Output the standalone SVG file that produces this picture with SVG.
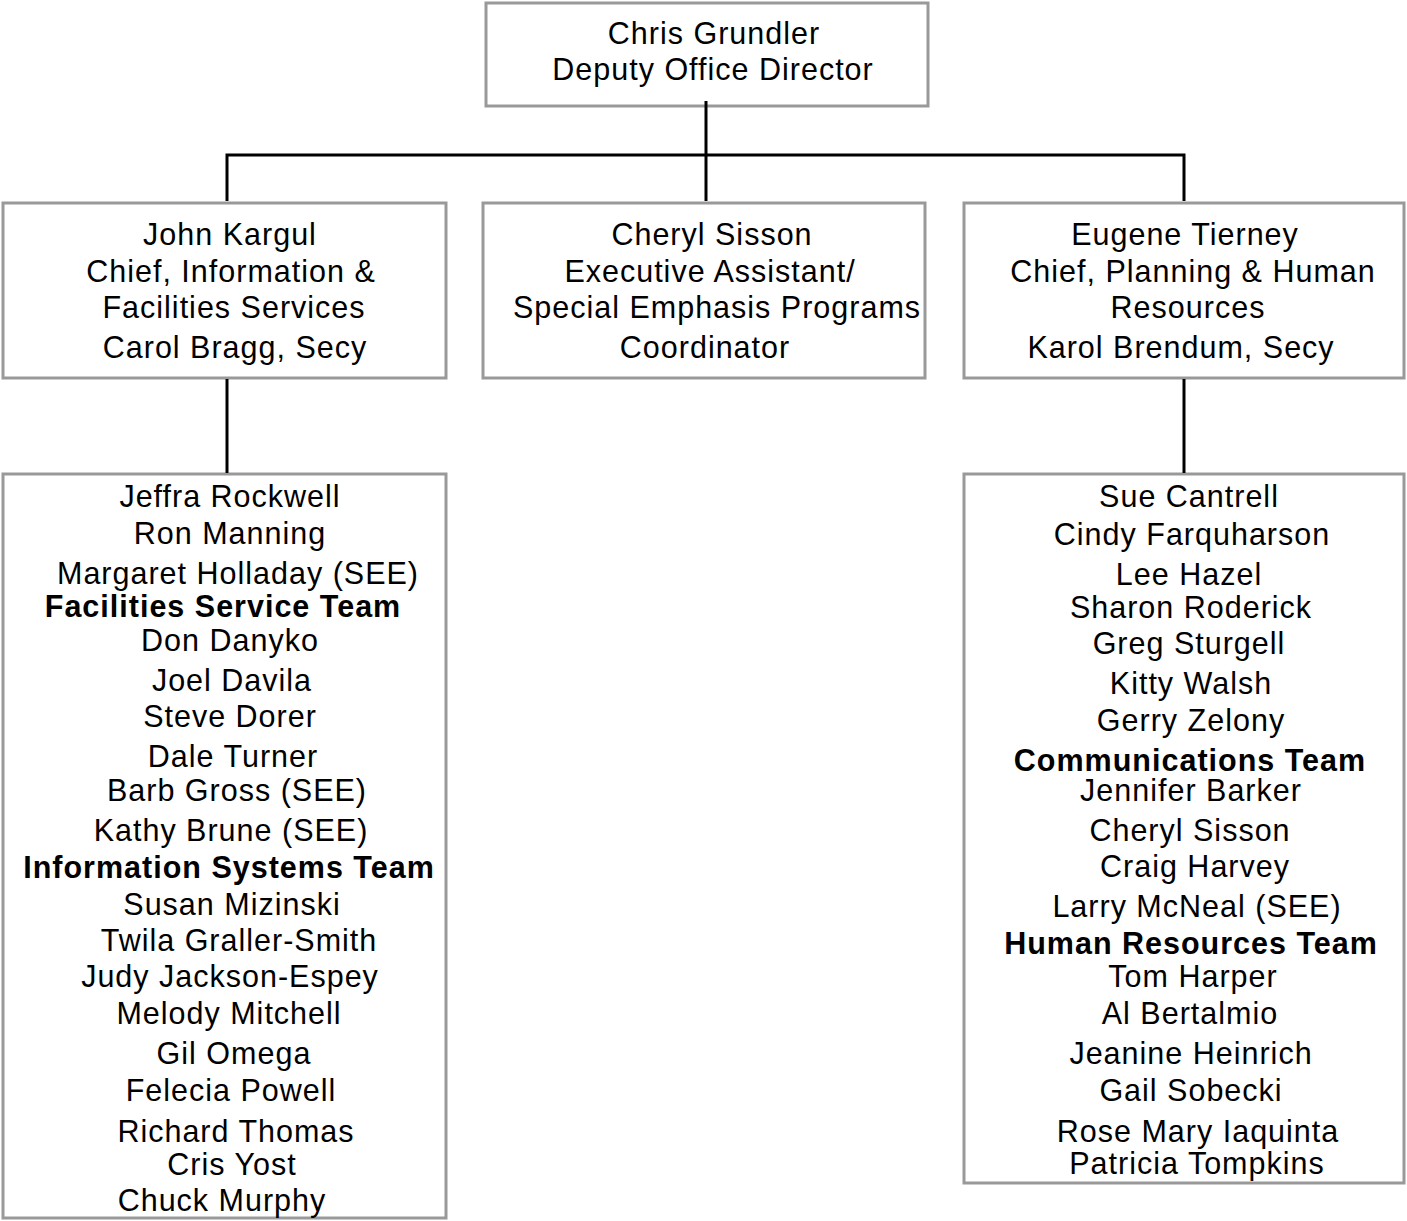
<svg xmlns="http://www.w3.org/2000/svg" width="1407" height="1221" viewBox="0 0 1407 1221">
<style>
.box{fill:#fff;stroke:#999;stroke-width:3}
.t{font-family:"Liberation Sans",Arial,sans-serif;font-size:30.5px;letter-spacing:1px;fill:#000;text-anchor:middle}
.b{font-weight:bold}
.c{stroke:#000;stroke-width:3;fill:none}
</style>
<rect width="1407" height="1221" fill="#fff"/>
<g id="node-grundler">
<rect class="box" x="486" y="3" width="442" height="103"/>
<text class="t" x="714" y="44">Chris Grundler</text>
<text class="t" x="713" y="80">Deputy Office Director</text>
</g>
<g id="node-kargul">
<rect class="box" x="3" y="203" width="443" height="175"/>
<text class="t" x="230" y="245">John Kargul</text>
<text class="t" x="231" y="282">Chief, Information &amp;</text>
<text class="t" x="234" y="318">Facilities Services</text>
<text class="t" x="235" y="358">Carol Bragg, Secy</text>
</g>
<g id="node-sisson">
<rect class="box" x="483" y="203" width="442" height="175"/>
<text class="t" x="712" y="245">Cheryl Sisson</text>
<text class="t" x="710" y="282">Executive Assistant/</text>
<text class="t" x="717" y="318">Special Emphasis Programs</text>
<text class="t" x="705" y="358">Coordinator</text>
</g>
<g id="node-tierney">
<rect class="box" x="964" y="203" width="440" height="175"/>
<text class="t" x="1185" y="245">Eugene Tierney</text>
<text class="t" x="1193" y="282">Chief, Planning &amp; Human</text>
<text class="t" x="1188" y="318">Resources</text>
<text class="t" x="1181" y="358">Karol Brendum, Secy</text>
</g>
<g id="node-ifs-staff">
<rect class="box" x="3" y="474" width="443" height="744"/>
<text class="t" x="230" y="507">Jeffra Rockwell</text>
<text class="t" x="230" y="544">Ron Manning</text>
<text class="t" x="238" y="584">Margaret Holladay (SEE)</text>
<text class="t b" x="223" y="617">Facilities Service Team</text>
<text class="t" x="230" y="651">Don Danyko</text>
<text class="t" x="232" y="691">Joel Davila</text>
<text class="t" x="230" y="727">Steve Dorer</text>
<text class="t" x="233" y="767">Dale Turner</text>
<text class="t" x="237" y="801">Barb Gross (SEE)</text>
<text class="t" x="231" y="841">Kathy Brune (SEE)</text>
<text class="t b" x="229" y="878">Information Systems Team</text>
<text class="t" x="232" y="915">Susan Mizinski</text>
<text class="t" x="239" y="951">Twila Graller-Smith</text>
<text class="t" x="230" y="987">Judy Jackson-Espey</text>
<text class="t" x="229" y="1024">Melody Mitchell</text>
<text class="t" x="234" y="1064">Gil Omega</text>
<text class="t" x="231" y="1101">Felecia Powell</text>
<text class="t" x="236" y="1142">Richard Thomas</text>
<text class="t" x="232" y="1175">Cris Yost</text>
<text class="t" x="222" y="1211">Chuck Murphy</text>
</g>
<g id="node-phr-staff">
<rect class="box" x="964" y="474" width="440" height="709"/>
<text class="t" x="1189" y="507">Sue Cantrell</text>
<text class="t" x="1192" y="545">Cindy Farquharson</text>
<text class="t" x="1189" y="585">Lee Hazel</text>
<text class="t" x="1191" y="618">Sharon Roderick</text>
<text class="t" x="1189" y="654">Greg Sturgell</text>
<text class="t" x="1191" y="694">Kitty Walsh</text>
<text class="t" x="1191" y="731">Gerry Zelony</text>
<text class="t b" x="1190" y="771">Communications Team</text>
<text class="t" x="1191" y="801">Jennifer Barker</text>
<text class="t" x="1190" y="841">Cheryl Sisson</text>
<text class="t" x="1195" y="877">Craig Harvey</text>
<text class="t" x="1197" y="917">Larry McNeal (SEE)</text>
<text class="t b" x="1191" y="954">Human Resources Team</text>
<text class="t" x="1193" y="987">Tom Harper</text>
<text class="t" x="1190" y="1024">Al Bertalmio</text>
<text class="t" x="1191" y="1064">Jeanine Heinrich</text>
<text class="t" x="1191" y="1101">Gail Sobecki</text>
<text class="t" x="1198" y="1142">Rose Mary Iaquinta</text>
<text class="t" x="1197" y="1174">Patricia Tompkins</text>
</g>
<g id="connectors">
<path class="c" d="M706 101V201"/>
<path class="c" d="M227 201V155H1184V201"/>
<path class="c" d="M227 379V473"/>
<path class="c" d="M1184 379V473"/>
</g>
</svg>
